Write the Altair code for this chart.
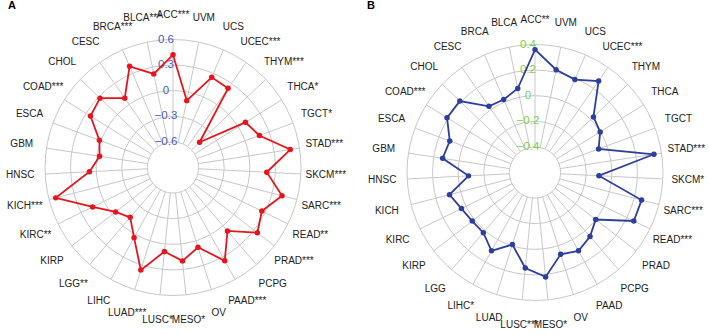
import altair as alt
import pandas as pd

categories = ["ACC", "BLCA", "BRCA", "CESC", "CHOL", "COAD", "ESCA", "GBM", "HNSC",
              "KICH", "KIRC", "KIRP", "LGG", "LIHC", "LUAD", "LUSC", "MESO", "OV",
              "PAAD", "PCPG", "PRAD", "READ", "SARC", "SKCM", "STAD", "TGCT", "THCA",
              "THYM", "UCEC", "UCS", "UVM"]

values_a = [0.42, 0.22, 0.39, 0.09, 0.28, 0.24, 0.02, -0.03, 0.08,
            0.52, 0.15, -0.05, -0.13, 0.04, 0.36, 0.09, 0.20, 0.08,
            0.35, 0.08, 0.35, 0.26, 0.42, 0.20, 0.49, 0.18, 0.10,
            -0.47, 0.23, 0.25, -0.10]
stars_a = [3, 3, 3, 0, 0, 3, 0, 0, 0,
           3, 2, 0, 2, 0, 3, 1, 1, 0,
           3, 0, 3, 2, 3, 3, 3, 1, 1,
           3, 3, 0, 0]

values_b = [0.36, 0.07, 0.02, 0.03, 0.21, 0.21, 0.11, 0.13, -0.08,
            0.09, 0.04, 0.02, 0.02, 0.10, -0.01, 0.15, 0.22, 0.07,
            0.10, 0.06, 0.00, 0.26, 0.26, -0.10, 0.34, -0.07, 0.00,
            0.03, 0.27, 0.19, 0.22]
stars_b = [2, 0, 0, 0, 0, 3, 0, 0, 0,
           0, 0, 0, 0, 1, 0, 3, 1, 0,
           0, 0, 0, 3, 3, 1, 3, 0, 0,
           0, 3, 0, 0]

ticks_a = [-0.6, -0.3, 0.0, 0.3, 0.6]
tick_labels_a = ["\u22120.6", "\u22120.3", "0", "0.3", "0.6"]
ticks_b = [-0.4, -0.2, 0.0, 0.2, 0.4]
tick_labels_b = ["\u22120.4", "\u22120.2", "0", "0.2", "0.4"]

W, H = 709, 335
R = 128.0
N = len(categories)
XS = alt.Scale(domain=[0, W], nice=False, zero=False)
YS = alt.Scale(domain=[0, H], nice=False, zero=False, reverse=True)
GRID = "#c8c8c8"
FONT = "Liberation Sans"


def xy(field_x="px", field_y="py"):
    return dict(x=alt.X(f"{field_x}:Q", scale=XS, axis=None),
                y=alt.Y(f"{field_y}:Q", scale=YS, axis=None))


def panel(cx, cy, vmin, vmax, values, stars, ticks, tick_labels,
          tick_color, line_color, letter, lx, ly):
    span = vmax - vmin
    ang = f"datum.idx * 2 * PI / {N}"
    cat_df = pd.DataFrame({
        "idx": list(range(N)),
        "cat": categories,
        "v": values,
        "label": [c + "*" * s for c, s in zip(categories, stars)],
    })
    tick_df = pd.DataFrame({"t": ticks, "lab": tick_labels})

    rings = alt.Chart(tick_df).transform_calculate(
        r=f"(datum.t - ({vmin})) / {span} * {R}",
        px=f"{cx}", py=f"{cy}",
        sz="pow(2 * datum.r, 2)",
    ).mark_point(shape="circle", filled=False, stroke=GRID, strokeWidth=1,
                 opacity=1).encode(
        size=alt.Size("sz:Q", scale=None, legend=None), **xy())

    r_in = (ticks[0] - vmin) / span * R
    spokes = alt.Chart(cat_df).transform_calculate(
        a=ang,
        px=f"{cx} - {r_in} * sin(datum.a)", py=f"{cy} - {r_in} * cos(datum.a)",
        px2=f"{cx} - {R} * sin(datum.a)", py2=f"{cy} - {R} * cos(datum.a)",
    ).mark_rule(stroke=GRID, strokeWidth=1).encode(
        x2="px2:Q", y2="py2:Q", **xy())

    tlabels = alt.Chart(tick_df).transform_calculate(
        r=f"(datum.t - ({vmin})) / {span} * {R}",
        px=f"{cx} - 7", py=f"{cy} - datum.r",
    ).mark_text(font=FONT, fontSize=11.5, color=tick_color, align="center",
                baseline="middle").encode(text="lab:N", **xy())

    pos = dict(
        a=ang,
        r=f"(datum.v - ({vmin})) / {span} * {R}",
        px=f"{cx} - datum.r * sin(datum.a)",
        py=f"{cy} - datum.r * cos(datum.a)",
    )
    line = alt.Chart(cat_df).transform_calculate(**pos).mark_line(
        color=line_color, strokeWidth=1.8, interpolate="linear-closed").encode(
        order="idx:Q", **xy())
    pts = alt.Chart(cat_df).transform_calculate(**pos).mark_circle(
        color=line_color, size=30, opacity=1).encode(**xy())

    clabels = alt.Chart(cat_df).transform_calculate(
        a=ang,
        px=f"{cx} - 153 * sin(datum.a)", py=f"{cy} - 153 * cos(datum.a)",
    ).mark_text(font=FONT, fontSize=10, color="#222222", align="center",
                baseline="middle").encode(text="label:N", **xy())

    title = alt.Chart(pd.DataFrame({"t": [letter]})).transform_calculate(
        px=f"{lx}", py=f"{ly}",
    ).mark_text(font=FONT, fontSize=11, fontWeight="bold", color="#000000",
                align="center", baseline="middle").encode(text="t:N", **xy())

    return [rings, spokes, tlabels, line, pts, clabels, title]


layers = (
    panel(173, 167.5, -0.9, 0.6, values_a, stars_a, ticks_a, tick_labels_a,
          "#4a5cc4", "#e8141c", "A", 12, 6)
    + panel(535, 172.5, -0.6, 0.4, values_b, stars_b, ticks_b, tick_labels_b,
            "#7ccf4c", "#2d3f9e", "B", 371, 6)
)

chart = alt.layer(*layers).properties(
    width=W, height=H, padding=0,
    autosize=alt.AutoSizeParams(type="none"),
).configure_view(stroke=None)

chart.save("out.html", embed_options={"renderer": "svg", "actions": False})
